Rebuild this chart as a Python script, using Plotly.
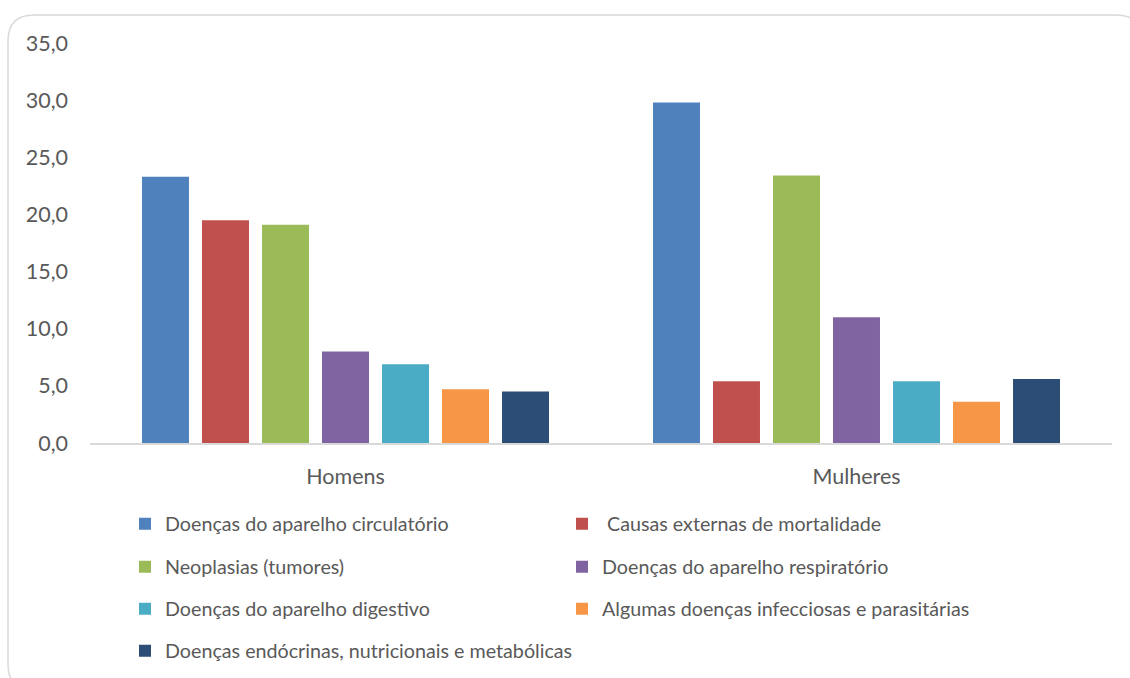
import plotly.graph_objects as go

# Categories and per-cause rates (%)
categorias = ["Homens", "Mulheres"]

causas = [
    "Doenças do aparelho circulatório",
    "\u00a0Causas externas de mortalidade",
    "Neoplasias (tumores)",
    "Doenças do aparelho respiratório",
    "Doenças do aparelho digestivo",
    "Algumas doenças infecciosas e parasitárias",
    "Doenças endócrinas, nutricionais e metabólicas",
]

circulatorio = [23.3, 29.8]
externas = [19.5, 5.4]
neoplasias = [19.1, 23.4]
respiratorio = [8.0, 11.0]
digestivo = [6.9, 5.4]
infecciosas = [4.7, 3.6]
endocrinas = [4.5, 5.6]

valores = [circulatorio, externas, neoplasias, respiratorio,
           digestivo, infecciosas, endocrinas]

cores = ["#4F81BD", "#C0504D", "#9BBB59", "#8064A2",
         "#4BACC6", "#F79646", "#2C4D75"]

# Two legend entries per row, one legend per row
legenda_de = ["legend", "legend", "legend2", "legend2",
              "legend3", "legend3", "legend4"]

TXT = "#595959"
FONT = "Lato"

W, H = 1130, 678
M_L, M_R, M_T, M_B = 90, 18, 43, 235

fig = go.Figure()
for nome, vals, cor, leg in zip(causas, valores, cores, legenda_de):
    fig.add_trace(go.Bar(
        x=categorias, y=vals, name=nome,
        marker=dict(color=cor, line=dict(width=0)),
        legend=leg,
        hovertemplate="%{x}: %{y:.1f}<extra>" + nome + "</extra>",
    ))

# Rows of the legend (y position in pixels from the top)
linhas_px = [524, 567, 609, 651]
leg_x = 125 / W


def legenda(y_px, largura=392):
    return dict(
        orientation="h",
        xref="container", yref="container",
        x=leg_x, xanchor="left",
        y=1 - y_px / H, yanchor="middle",
        entrywidth=largura, entrywidthmode="pixels",
        font=dict(family=FONT, size=19.7, color=TXT),
        bgcolor="rgba(0,0,0,0)", borderwidth=0,
        traceorder="normal",
    )


# Rounded frame around the chart, expressed in paper units of the plot area
pw = W - M_L - M_R
ph = H - M_T - M_B


def px_x(p):
    return (p - M_L) / pw


def px_y(p):
    return (H - M_B - p) / ph


x0, x1, y0, y1, r = 8, 1142, 15, 690, 26
path = (
    f"M {px_x(x0 + r)},{px_y(y0)} "
    f"L {px_x(x1 - r)},{px_y(y0)} "
    f"Q {px_x(x1)},{px_y(y0)} {px_x(x1)},{px_y(y0 + r)} "
    f"L {px_x(x1)},{px_y(y1 - r)} "
    f"Q {px_x(x1)},{px_y(y1)} {px_x(x1 - r)},{px_y(y1)} "
    f"L {px_x(x0 + r)},{px_y(y1)} "
    f"Q {px_x(x0)},{px_y(y1)} {px_x(x0)},{px_y(y1 - r)} "
    f"L {px_x(x0)},{px_y(y0 + r)} "
    f"Q {px_x(x0)},{px_y(y0)} {px_x(x0 + r)},{px_y(y0)} Z"
)

fig.update_layout(
    width=W, height=H,
    margin=dict(l=M_L, r=M_R, t=M_T, b=M_B, pad=0),
    paper_bgcolor="white", plot_bgcolor="white",
    separators=",.",
    font=dict(family=FONT, color=TXT),
    barmode="group",
    bargap=0.178,
    bargroupgap=0.217,
    legend=legenda(linhas_px[0]),
    legend2=legenda(linhas_px[1]),
    legend3=legenda(linhas_px[2]),
    legend4=legenda(linhas_px[3], largura=700),
    shapes=[dict(type="path", xref="paper", yref="paper", path=path,
                 line=dict(color="#D9D9D9", width=1.5),
                 fillcolor="rgba(0,0,0,0)", layer="below")],
)

fig.update_xaxes(
    showline=True, linecolor="#D9D9D9", linewidth=2,
    showgrid=False, zeroline=False, ticks="",
    tickfont=dict(family=FONT, size=21.5, color=TXT),
    ticklabelstandoff=13,
)

fig.update_yaxes(
    range=[0, 35], dtick=5, tick0=0, tickformat=".1f",
    showline=False, showgrid=False, zeroline=False, ticks="",
    tickfont=dict(family=FONT, size=21.5, color=TXT),
    ticklabelstandoff=21,
)

fig.write_html("out.html")
